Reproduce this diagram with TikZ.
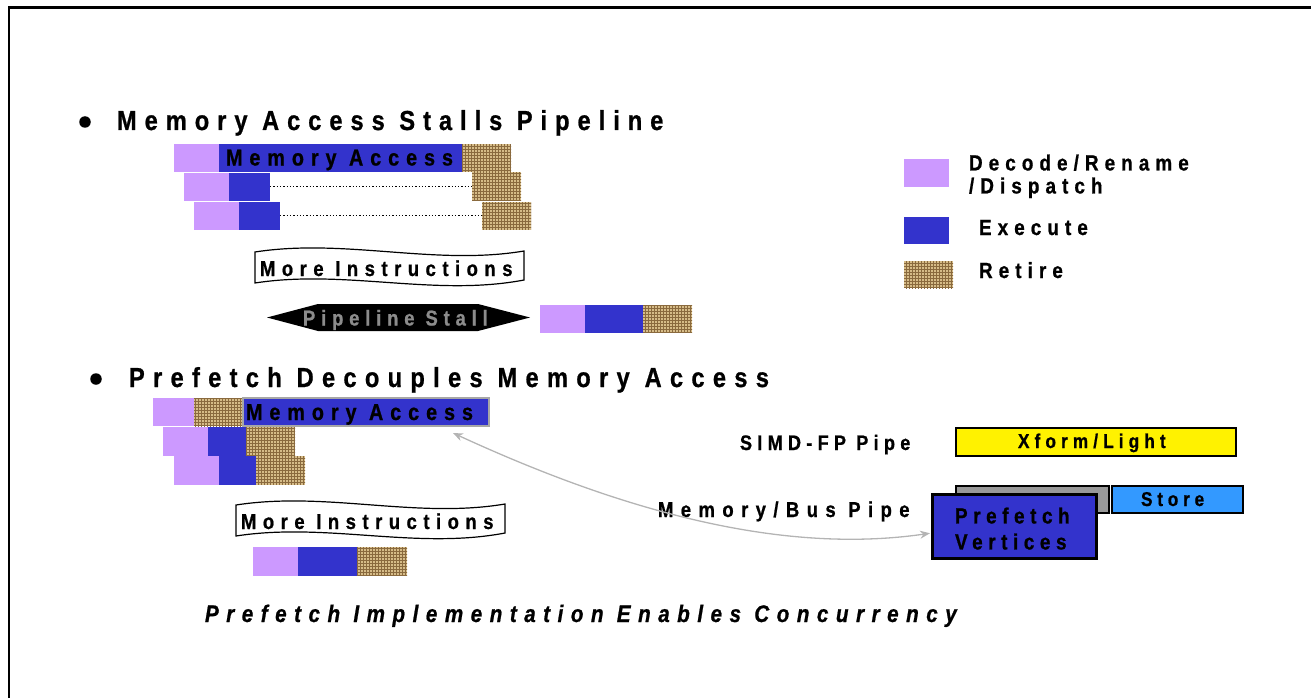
\documentclass[tikz,border=0pt]{standalone}
\usepackage{fontspec}
\setmainfont{Liberation Sans}
\usetikzlibrary{arrows.meta,patterns,calc}

\definecolor{decode}{HTML}{CC99FF}
\definecolor{exec}{HTML}{3333CC}
\definecolor{burlap}{HTML}{D6BC88}
\definecolor{burlapdark}{HTML}{8A6A3E}
\definecolor{storeblue}{HTML}{3399FF}
\definecolor{boxgray}{HTML}{999999}
\definecolor{linkgray}{HTML}{B4B4B4}
\definecolor{stalltext}{HTML}{8C8C8C}

% bold, narrow, letter-spaced text: size in pt, spacing in percent of the em
\newcommand\spc[2]{\fontsize{#1}{#1}\selectfont\bfseries\addfontfeature{LetterSpace=#2,FakeStretch=0.86,FakeBold=0.8}}

\tikzset{
  stage/.style={draw=none, inner sep=0pt, outer sep=0pt, anchor=north west, minimum height=27.5},
  dec/.style={stage, fill=decode},
  exe/.style={stage, fill=exec},
  ret/.style={stage, fill=burlap, postaction={pattern=grid, pattern color=burlapdark}},
  txt/.style={inner sep=0pt, outer sep=0pt, anchor=base west},
  pipebox/.style={draw=black, line width=2pt, inner sep=0pt, anchor=north west},
  bullet/.style={circle, fill=black, inner sep=0pt, minimum size=11.5},
  pics/wavebanner/.style={code={
    \draw[line width=1.2pt, fill=white] (0,4) .. controls (90,-10) and (180,18) .. (269,3)
       -- (269,32) .. controls (180,49) and (90,21) .. (0,35) -- cycle;
    \node[txt, font=\spc{21.5}{30.2}] (-t) at (5,28) {#1};
  }},
}

\begin{document}
\begin{tikzpicture}[x=1pt, y=-1pt]
\useasboundingbox (0,0) rectangle (1311,698);

% frame
\draw[line width=2.2pt] (8,7.5) -- (1311,7.5);
\draw[line width=1.2pt] (9,7.5) -- (9,698);

% ---- Memory Access Stalls Pipeline ----
\node[bullet] (h1b) at (85,122) {};
\node[txt, font=\spc{27.5}{29}] (h1) at (117,130) {Memory Access Stalls Pipeline};

\node[dec, minimum width=45] (a1d) at (174,144) {};
\node[exe, minimum width=243] (a1e) at (a1d.north east) {};
\node[ret, minimum width=49] (a1r) at (a1e.north east) {};
\node[txt, font=\spc{23}{30.2}] (a1t) at (226,165.5) {Memory Access};

\node[dec, minimum width=45] (a2d) at (184,173) {};
\node[exe, minimum width=41] (a2e) at (a2d.north east) {};
\node[ret, minimum width=49, minimum height=28.5] (a2r) at (472,172) {};
\draw[dotted, line width=1.3pt] (a2e.east) -- (a2r.west |- a2e.east);

\node[dec, minimum width=45] (a3d) at (194,202) {};
\node[exe, minimum width=41] (a3e) at (a3d.north east) {};
\node[ret, minimum width=49] (a3r) at (482,202) {};
\draw[dotted, line width=1.3pt] (a3e.east) -- (a3r.west |- a3e.east);

\pic (mi1) at (255,248) {wavebanner=More Instructions};

\fill[black] (267,317.5) -- (318,304) -- (478,304) -- (530,317.5) -- (478,331) -- (318,331) -- cycle;
\node[txt, font=\spc{21.5}{27}, text=stalltext] (stall) at (303,325.5) {Pipeline Stall};

\node[dec, minimum width=45] (s1d) at (540,305) {};
\node[exe, minimum width=58] (s1e) at (s1d.north east) {};
\node[ret, minimum width=49] (s1r) at (s1e.north east) {};

% legend
\node[dec, minimum width=45, minimum height=28] (ld) at (904,159) {};
\node[txt, anchor=north west, align=left, font={\spc{22}{27.5}\fontsize{22}{23}\selectfont}] (ldt) at (969,154.5) {Decode/Rename\\/Dispatch};
\node[exe, minimum width=45, minimum height=27] (le) at (904,217) {};
\node[txt, font=\spc{22}{27.5}] (let) at (979,235) {Execute};
\node[ret, minimum width=49, minimum height=27] (lr) at (904,261) {};
\node[txt, font=\spc{22}{27.5}] (lrt) at (979,278) {Retire};

% ---- Prefetch Decouples Memory Access ----
\node[bullet] (h2b) at (96,379) {};
\node[txt, font=\spc{27.5}{30.2}] (h2) at (129,387) {Prefetch Decouples Memory Access};

\node[dec, minimum width=41, minimum height=28] (b1d) at (153,398) {};
\node[ret, minimum width=49, minimum height=28] (b1r) at (b1d.north east) {};
\node[exe, minimum width=246, minimum height=28, draw=gray!70, line width=1.5pt] (b1e) at (b1r.north east) {};
\node[txt, font=\spc{23}{30.2}] (b1t) at (246,420) {Memory Access};

\node[dec, minimum width=45, minimum height=28.5] (b2d) at (163,427) {};
\node[exe, minimum width=38, minimum height=28.5] (b2e) at (b2d.north east) {};
\node[ret, minimum width=49, minimum height=28.5] (b2r) at (b2e.north east) {};

\node[dec, minimum width=45, minimum height=28.5] (b3d) at (174,456) {};
\node[exe, minimum width=37, minimum height=28.5] (b3e) at (b3d.north east) {};
\node[ret, minimum width=49, minimum height=28.5] (b3r) at (b3e.north east) {};

\pic (mi2) at (236,501) {wavebanner=More Instructions};

\node[dec, minimum width=45, minimum height=28.5] (b4d) at (253,547) {};
\node[exe, minimum width=59, minimum height=28.5] (b4e) at (b4d.north east) {};
\node[ret, minimum width=50, minimum height=28.5] (b4r) at (b4e.north east) {};

% pipes
\node[txt, font=\spc{21}{25.2}] (simd) at (740,450) {SIMD-FP Pipe};
\node[txt, font=\spc{21.5}{34.5}] (bus) at (658,517) {Memory/Bus Pipe};

\node[pipebox, fill=yellow, minimum width=280, minimum height=28] (xf) at (955,427) {};
\node[txt, font=\spc{20}{25.6}] (xft) at (1018,448) {Xform/Light};

\node[pipebox, fill=boxgray, minimum width=153, minimum height=27] (gb) at (955,485) {};
\node[pipebox, fill=storeblue, minimum width=131, minimum height=27] (st) at (1111,485) {};
\node[txt, font=\spc{20}{24}] (stt) at (1141,506) {Store};

\node[pipebox, fill=exec, line width=2.5pt, minimum width=164, minimum height=64] (pf) at (931,493) {};
\node[txt, anchor=north west, align=left, font={\spc{22}{25.3}\fontsize{22}{26}\selectfont}] (pft) at (955,507.5) {Prefetch\\Vertices};

% link between the memory access and the prefetch
\coordinate (linkA) at ($(b1e.south east)+(-36,7)$);
\coordinate (linkB) at ($(pf.west)+(-1,7)$);
\draw[linkgray, line width=1.3pt, {Stealth[length=10,width=8]}-{Stealth[length=10,width=8]}]
  (linkA) .. controls (620,510) and (780,555) .. (linkB);

% caption
\node[txt, font={\spc{24}{31.3}\itshape}] (cap) at (205,622) {Prefetch Implementation Enables Concurrency};

\end{tikzpicture}
\end{document}
